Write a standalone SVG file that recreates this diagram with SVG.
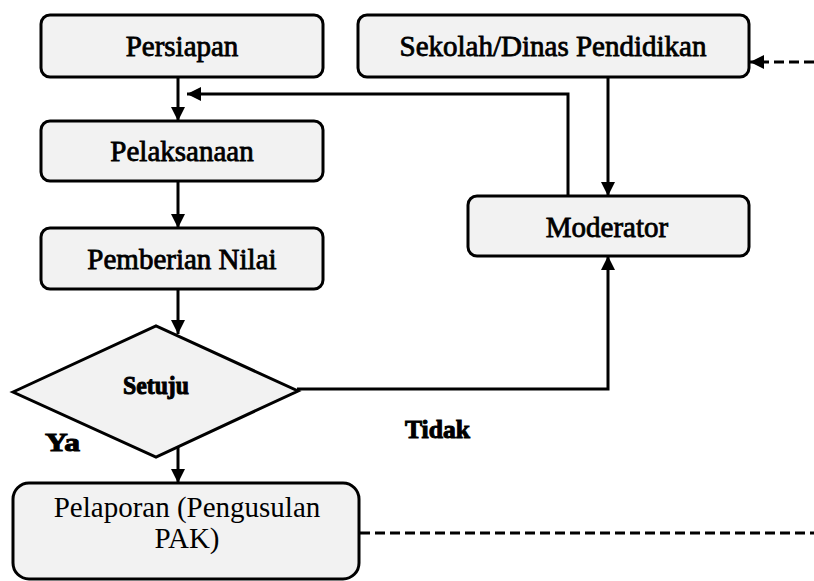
<svg xmlns="http://www.w3.org/2000/svg" width="814" height="581" viewBox="0 0 814 581">
  <style>
    .box { fill: #f2f2f2; stroke: #000; stroke-width: 3; }
    .lbl { font-family: 'Liberation Serif', 'Times New Roman', serif; font-size: 29px; fill: #000; text-anchor: middle; }
    .heavy { stroke: #000; stroke-width: 0.8; }
    .tag { font-family: 'Liberation Serif', 'Times New Roman', serif; font-weight: bold; fill: #000; stroke: #000; stroke-width: 1; }
    .wire { fill: none; stroke: #000; stroke-width: 3; }
    .dash { stroke-dasharray: 10 5; }
  </style>
  <defs>
    <marker id="arrow" viewBox="0 0 14 14" refX="14" refY="7" markerWidth="14" markerHeight="14" markerUnits="userSpaceOnUse" orient="auto">
      <path d="M0,0 L14,7 L0,14 Z" fill="#000"/>
    </marker>
  </defs>

  <!-- connectors -->
  <g id="connectors">
    <line class="wire" x1="178" y1="77" x2="178" y2="121" marker-end="url(#arrow)"/>
    <line class="wire" x1="178" y1="181" x2="178" y2="228" marker-end="url(#arrow)"/>
    <line class="wire" x1="178" y1="289" x2="178" y2="334" marker-end="url(#arrow)"/>
    <line class="wire" x1="178" y1="447" x2="178" y2="483" marker-end="url(#arrow)"/>
    <polyline class="wire" points="568,196 568,94 187,94" marker-end="url(#arrow)"/>
    <line class="wire" x1="608" y1="77" x2="608" y2="196" marker-end="url(#arrow)"/>
    <polyline class="wire" points="297,389 608,389 608,256" marker-end="url(#arrow)"/>
    <line class="wire dash" x1="814" y1="62" x2="750" y2="62" marker-end="url(#arrow)"/>
    <line class="wire dash" x1="360" y1="533" x2="814" y2="533"/>
  </g>

  <g id="persiapan">
    <rect class="box" x="41" y="15" width="282" height="62" rx="9"/>
    <text class="lbl heavy" x="182" y="56">Persiapan</text>
  </g>

  <g id="pelaksanaan">
    <rect class="box" x="41" y="121" width="282" height="60" rx="9"/>
    <text class="lbl heavy" x="182" y="161">Pelaksanaan</text>
  </g>

  <g id="pemberian-nilai">
    <rect class="box" x="41" y="228" width="282" height="61" rx="9"/>
    <text class="lbl heavy" x="182" y="269">Pemberian Nilai</text>
  </g>

  <g id="sekolah">
    <rect class="box" x="358" y="15" width="391" height="62" rx="9"/>
    <text class="lbl heavy" x="553" y="56">Sekolah/Dinas Pendidikan</text>
  </g>

  <g id="moderator">
    <rect class="box" x="468" y="196" width="281" height="60" rx="9"/>
    <text class="lbl heavy" x="607" y="237">Moderator</text>
  </g>

  <g id="setuju">
    <polygon class="box" points="13,392 156,326 298,391 156,457"/>
    <text class="tag" x="156" y="394" font-size="26" text-anchor="middle" textLength="66" lengthAdjust="spacingAndGlyphs">Setuju</text>
  </g>

  <g id="pelaporan">
    <rect class="box" x="13" y="483" width="346" height="96" rx="16"/>
    <text class="lbl" x="187" y="517">Pelaporan (Pengusulan</text>
    <text class="lbl" x="187" y="548">PAK)</text>
  </g>

  <text class="tag" x="45" y="451" font-size="25" textLength="35" lengthAdjust="spacingAndGlyphs">Ya</text>
  <text class="tag" x="405" y="438" font-size="25" textLength="65" lengthAdjust="spacingAndGlyphs">Tidak</text>
</svg>
